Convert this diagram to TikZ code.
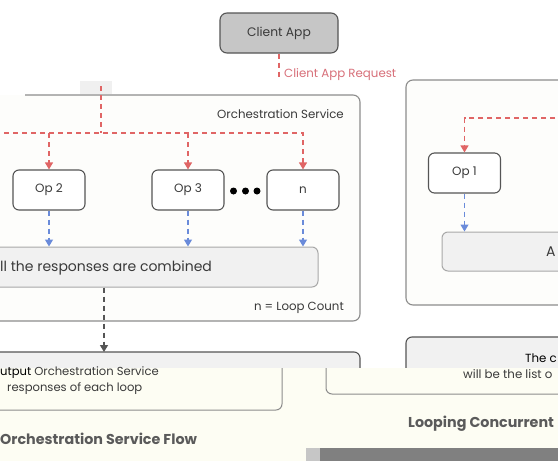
\documentclass[tikz,border=0pt]{standalone}
\usepackage{fontspec}
\setmainfont{Poppins}
\usetikzlibrary{arrows.meta}
\definecolor{redl}{HTML}{E06565}
\definecolor{bluel}{HTML}{6A8BDA}
\definecolor{darkb}{HTML}{555555}
\definecolor{txt}{HTML}{3A3A3A}
\definecolor{ttl}{HTML}{5A5A5A}
\definecolor{cream}{HTML}{FDFDF3}
\definecolor{offw}{HTML}{FDFDFB}
\definecolor{combfill}{HTML}{F1F1F1}
\definecolor{combline}{HTML}{A8A8A8}
\definecolor{boxline}{HTML}{8C8C8C}
\definecolor{reqtxt}{HTML}{D8707A}
\definecolor{clientfill}{HTML}{C6C6C6}
\definecolor{barg}{HTML}{808080}
\begin{document}
\begin{tikzpicture}[x=1pt,y=-1pt,
  opbox/.style={draw=darkb, line width=1.1pt, rounded corners=6pt, fill=white,
    minimum width=72pt, minimum height=40pt, inner sep=0pt, text=txt,
    font=\fontsize{12}{14}\selectfont},
  combbox/.style={draw=combline, line width=1pt, rounded corners=6pt, fill=combfill, inner sep=0pt},
  container/.style={draw=boxline, line width=1.1pt, rounded corners=7pt},
  reqarrow/.style={draw=redl, line width=1.1pt, dash pattern=on 5pt off 4pt, -{Triangle[width=8pt,length=7pt]}},
  reqline/.style={draw=redl, line width=1.1pt, dash pattern=on 5pt off 4pt},
  resarrow/.style={draw=bluel, line width=1.1pt, dash pattern=on 5pt off 4pt, -{Triangle[width=8pt,length=7pt]}},
  outarrow/.style={draw=darkb, line width=1.1pt, dash pattern=on 5pt off 4pt, -{Triangle[width=8pt,length=7pt]}},
  lbl/.style={inner sep=0pt, text=txt, font=\fontsize{11.8}{13}\selectfont},
  ttlbl/.style={inner sep=0pt, text=ttl, font=\fontsize{14.3}{16}\selectfont\bfseries},
  dot/.style={circle, fill=black, inner sep=0pt, minimum size=7pt}]
\useasboundingbox (0,0) rectangle (558,461);
\clip (0,0) rectangle (558,461);
\fill[white] (0,0) rectangle (558,461);

% left container (Orchestration Service)
\fill[offw] (-20,95) rectangle (360,321);
\draw[container] (25,95) -- (360,95) -- (360,321) -- (-20,321);
\node[lbl, anchor=east] (orchlbl) at (344,114) {Orchestration Service};
\fill[gray!12] (80,81) rectangle (112,94);

% right container
\fill[offw] (406,80) rectangle (600,305);
\draw[container] (600,80) -- (406,80) -- (406,305) -- (600,305);

% client app
\node[draw=darkb, line width=1.1pt, rounded corners=7pt, fill=clientfill, minimum width=118pt,
  minimum height=40pt, inner sep=0pt, text=txt, font=\fontsize{12.3}{14}\selectfont] (client) at (279,33) {Client App};
\coordinate (creq) at (279,80);
\draw[reqline] (client.south) -- (creq);
\node[inner sep=0pt, anchor=west, text=reqtxt, font=\fontsize{11.8}{13}\selectfont] (reqlbl) at (284,75) {Client App Request};

% left ops
\node[opbox] (op2) at (49,190) {Op 2};
\node[opbox] (op3) at (188,190) {Op 3};
\node[opbox] (opn) at (303,190) {n};
\node[dot] (d1) at (233.5,191) {};
\node[dot] (d2) at (245.5,191) {};
\node[dot] (d3) at (257,191) {};

\coordinate (ltop) at (101,86);
\coordinate (hl) at (-5,133);
\draw[reqline] (ltop) -- (ltop |- hl);
\draw[reqarrow] (hl) -| (opn.north);
\draw[reqarrow] (op2.north |- hl) -- (op2.north);
\draw[reqarrow] (op3.north |- hl) -- (op3.north);

\node[combbox, minimum width=338pt, minimum height=40pt] (comb) at (149,267) {};
\node[inner sep=0pt, anchor=west, text=txt, font=\fontsize{14}{16}\selectfont] (combtxt) at (0,268) {ll the responses are combined};
\draw[resarrow] (op2.south) -- (op2.south |- comb.north);
\draw[resarrow] (op3.south) -- (op3.south |- comb.north);
\draw[resarrow] (opn.south) -- (opn.south |- comb.north);
\node[lbl, anchor=east] (loopcnt) at (344,308) {n = Loop Count};

% right ops
\coordinate (rtop) at (600,118);
\node[opbox] (op1) at (464.5,173) {Op 1};
\draw[reqarrow] (rtop) -| (op1.north);
\node[combbox, minimum width=160pt, minimum height=39pt] (combr) at (522,251.5) {};
\node[inner sep=0pt, anchor=west, text=txt, font=\fontsize{14}{16}\selectfont] (combrtxt) at (546,252) {A};
\draw[resarrow] (op1.south) -- (op1.south |- combr.north);

% output boxes (upper part)
\draw[draw=darkb, line width=1.1pt, fill=combfill, rounded corners=6pt] (-20,352) rectangle (360,400);
\coordinate (outtop) at (104,352);
\draw[outarrow] (comb.south -| outtop) -- (outtop);
\draw[draw=darkb, line width=1.1pt, fill=combfill, rounded corners=6pt] (406,337) rectangle (600,400);
\node[inner sep=0pt, anchor=east, text=black, font=\fontsize{11.8}{13}\selectfont] (thec) at (557,358) {The c};

% cream band
\fill[cream] (0,368) rectangle (558,461);
\draw[draw=boxline, line width=1pt, rounded corners=6pt] (282,368) -- (282,410) -- (-20,410);
\draw[draw=boxline, line width=1pt, rounded corners=6pt] (326,368) -- (326,394) -- (600,394);

\node[inner sep=0pt, anchor=west, font=\fontsize{11.6}{13}\selectfont] (out1) at (0,373)
  {\textcolor{black}{utput}\hspace{3pt}\textcolor{txt}{Orchestration Service}};
\node[inner sep=0pt, anchor=west, text=txt, font=\fontsize{11.6}{13}\selectfont] (out2) at (7,389) {responses of each loop};
\node[inner sep=0pt, anchor=west, text=txt, font=\fontsize{11.8}{13}\selectfont] (out3) at (463,374) {will be the list o};

\node[ttlbl, anchor=west] (t1) at (0,439) {Orchestration Service Flow};
\node[ttlbl, anchor=west] (t2) at (408,424) {Looping Concurrent};

% bottom bar
\fill[gray!45] (306,448) rectangle (320,461);
\fill[barg] (320,448) rectangle (558,461);
\end{tikzpicture}
\end{document}
